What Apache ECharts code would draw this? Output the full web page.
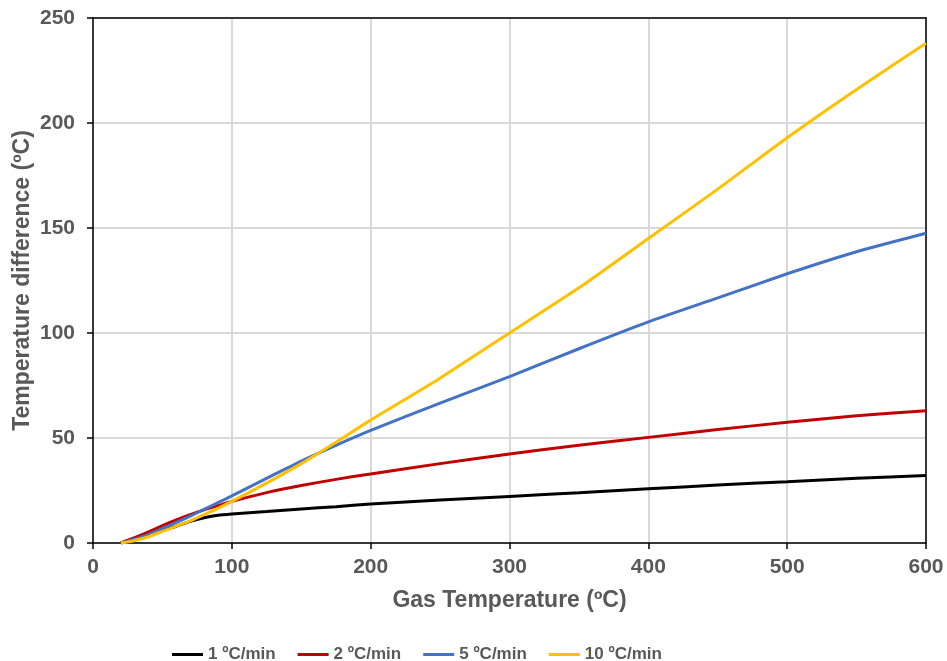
<!DOCTYPE html>
<html>
<head>
<meta charset="utf-8">
<script src="https://cdn.jsdelivr.net/npm/echarts@6/dist/echarts.min.js"></script>
<style>
html,body{margin:0;padding:0;background:#fff;}
#chart{width:947px;height:661px;}
</style>
</head>
<body>
<div id="chart"></div>
<script>
const gasTemp = [20, 30, 40, 50, 60, 70, 80, 90, 100, 125, 150, 175, 200, 250, 300, 350, 400, 450, 500, 550, 600];
const rate1 = [0, 1.5, 3.5, 6, 8, 10.3, 12, 13.2, 13.8, 15, 16.2, 17.3, 18.6, 20.5, 22.2, 23.9, 25.8, 27.6, 29.2, 30.8, 32.2];
const rate2 = [0, 2.5, 5.3, 8.3, 11, 13.5, 15.8, 17.8, 19.8, 24, 27.4, 30.3, 32.9, 37.8, 42.4, 46.5, 50.3, 54, 57.5, 60.6, 63];
const rate5 = [0, 1.8, 4, 6.8, 9.8, 12.8, 16, 19.2, 22.4, 30.8, 39, 46.5, 53.6, 66.6, 79.2, 92.5, 105.3, 116.7, 128.2, 138.7, 147.5];
const rate10 = [0, 1.2, 3, 5.5, 8, 10.5, 13.5, 16.5, 19.8, 28.5, 37.8, 48, 58.5, 78.5, 100, 121.5, 145, 168.5, 193, 216, 238];
const seriesNames = ['1 ºC/min', '2 ºC/min', '5 ºC/min', '10 ºC/min'];
const seriesColors = ['#000000', '#C00000', '#4472C4', '#FFC000'];
const xTitle = 'Gas Temperature (ºC)';
const yTitle = 'Temperature difference (ºC)';

const allData = [rate1, rate2, rate5, rate10];
const font = 'Liberation Sans, Arial, sans-serif';
const labelColor = '#595959';

const chart = echarts.init(document.getElementById('chart'), null, {renderer: 'canvas'});
chart.setOption({
  backgroundColor: '#ffffff',
  animation: false,
  grid: {left: 93, right: 21, top: 18, bottom: 118, containLabel: false, outerBoundsMode: 'none'},
  legend: {
    left: 167, top: 641,
    icon: 'rect',
    itemWidth: 31, itemHeight: 3, itemGap: 22,
    textStyle: {fontFamily: font, fontSize: 17, fontWeight: 'bold', color: labelColor},
    data: seriesNames
  },
  xAxis: [{
    type: 'value', min: 0, max: 600, interval: 100,
    name: xTitle, nameLocation: 'middle', nameGap: 46, nameMoveOverlap: false,
    nameTextStyle: {fontFamily: font, fontSize: 23, fontWeight: 'bold', color: labelColor},
    axisLine: {show: true, lineStyle: {color: '#000', width: 1.5}},
    axisTick: {show: true, length: 6, lineStyle: {color: '#000', width: 1.5}},
    axisLabel: {margin: 14, fontFamily: font, fontSize: 21, fontWeight: 'bold', color: labelColor},
    splitLine: {show: true, lineStyle: {color: '#d9d9d9', width: 2}}
  }, {
    type: 'value', min: 0, max: 600, interval: 100, position: 'top',
    axisLine: {show: true, onZero: false, lineStyle: {color: '#000', width: 1.5}},
    axisTick: {show: false}, axisLabel: {show: false}, splitLine: {show: false}
  }],
  yAxis: [{
    type: 'value', min: 0, max: 250, interval: 50,
    name: yTitle, nameLocation: 'middle', nameGap: 59, nameRotate: 90, nameMoveOverlap: false,
    nameTextStyle: {fontFamily: font, fontSize: 23, fontWeight: 'bold', color: labelColor},
    axisLine: {show: true, lineStyle: {color: '#000', width: 1.5}},
    axisTick: {show: true, length: 6, lineStyle: {color: '#000', width: 1.5}},
    axisLabel: {margin: 18, fontFamily: font, fontSize: 21, fontWeight: 'bold', color: labelColor},
    splitLine: {show: true, lineStyle: {color: '#d9d9d9', width: 2}}
  }, {
    type: 'value', min: 0, max: 250, interval: 50, position: 'right',
    axisLine: {show: true, onZero: false, lineStyle: {color: '#000', width: 1.5}},
    axisTick: {show: false}, axisLabel: {show: false}, splitLine: {show: false}
  }],
  series: seriesNames.map((n, i) => ({
    name: n, type: 'line', symbol: 'none', smooth: 0.2,
    xAxisIndex: 0, yAxisIndex: 0,
    color: seriesColors[i],
    lineStyle: {color: seriesColors[i], width: 3},
    data: gasTemp.map((x, j) => [x, allData[i][j]])
  }))
});
</script>
</body>
</html>
